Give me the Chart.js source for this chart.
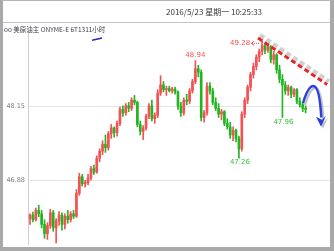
<!DOCTYPE html>
<html>
<head>
<meta charset="utf-8">
<script src="https://cdn.jsdelivr.net/npm/chart.js@4/dist/chart.umd.min.js"></script>
<style>
    body { margin: 0; background: #fff; }
    #wrap { position: relative; width: 334px; height: 251px; overflow: hidden; background: #fff; }
    #wrap canvas { position: absolute; left: 0; top: 0; }
    .frame { position: absolute; left: 0; top: 0; width: 334px; height: 251px; box-sizing: border-box;
             border-left: 3px solid #a9a9a9; border-right: 4px solid #a9a9a9; border-bottom: 4px solid #a9a9a9;
             border-top: 1px solid #b5b5b5; pointer-events: none; }
    .sep { position: absolute; left: 3px; top: 22px; width: 327px; height: 1px; background: #c4c4c4; }
    .title { position: absolute; left: 166px; top: 6px; font: 8px "Noto Sans CJK SC", "DejaVu Sans", sans-serif; color: #333; white-space: nowrap; }
    .sub { position: absolute; left: 4px; top: 24px; font: 6.5px "Noto Sans CJK SC", "DejaVu Sans", sans-serif; color: #3a3a4a; white-space: nowrap; }
</style>
</head>
<body>
<div id="wrap">
    <canvas id="chart" width="334" height="251"></canvas>
    <div class="sep"></div>
    <div class="title">2016/5/23 星期一 10:25:33</div>
    <div class="sub">oo 美原油主 ONYME-E 6T1311小时</div>
    <div class="frame"></div>
</div>
<script>
// --- Datos (velas de 1 hora) ---
const opens = [
    46.22, 46.28, 46.20, 46.36, 46.30, 46.12, 45.96, 46.10, 46.32, 46.06,
    46.18, 46.28, 46.12, 46.26, 46.20, 46.30, 46.26, 46.66, 46.94, 46.82,
    46.84, 46.92, 47.08, 47.02, 47.26, 47.38, 47.50, 47.44, 47.68, 47.78,
    47.70, 47.86, 48.10, 48.04, 48.16, 48.12, 48.26, 48.22, 47.84, 47.72,
    47.78, 47.98, 48.16, 47.94, 48.00, 48.38, 48.52, 48.44, 48.46, 48.42,
    48.45, 48.40, 48.16, 48.04, 48.26, 48.24, 48.42, 48.58, 48.80, 48.74,
    47.96, 48.04, 48.50, 48.42, 48.22, 48.12, 48.02, 48.06, 47.86, 47.80,
    47.66, 47.74, 47.60, 47.42, 48.02, 48.26, 48.48, 48.70, 48.84, 49.00,
    49.10, 49.20, 49.12, 49.18, 48.96, 49.04, 48.78, 48.62, 48.52, 48.42,
    48.48, 48.36, 48.44, 48.24, 48.18, 48.12
];
const highs = [
    46.30, 46.33, 46.40, 46.45, 46.36, 46.20, 46.15, 46.38, 46.36, 46.22,
    46.34, 46.32, 46.30, 46.36, 46.34, 46.36, 46.72, 47.00, 46.98, 46.88,
    46.98, 47.12, 47.14, 47.30, 47.42, 47.56, 47.66, 47.72, 47.84, 47.80,
    47.90, 48.14, 48.16, 48.20, 48.22, 48.30, 48.34, 48.24, 47.90, 47.82,
    48.02, 48.20, 48.26, 48.04, 48.44, 48.68, 48.58, 48.50, 48.50, 48.48,
    48.48, 48.42, 48.22, 48.30, 48.36, 48.46, 48.62, 48.94, 48.86, 48.78,
    48.08, 48.56, 48.56, 48.46, 48.30, 48.20, 48.10, 48.08, 47.94, 47.88,
    47.80, 47.76, 47.64, 48.06, 48.30, 48.52, 48.74, 48.90, 49.04, 49.14,
    49.28, 49.24, 49.22, 49.20, 49.10, 49.06, 48.86, 48.70, 48.58, 48.52,
    48.50, 48.46, 48.46, 48.30, 48.22, 48.16
];
const lows = [
    46.12, 46.16, 46.18, 46.25, 46.06, 45.88, 45.86, 46.05, 46.00, 45.80,
    46.10, 46.02, 46.04, 46.14, 46.16, 46.22, 46.24, 46.62, 46.78, 46.76,
    46.80, 46.88, 46.98, 47.00, 47.20, 47.32, 47.36, 47.40, 47.60, 47.62,
    47.64, 47.82, 47.98, 48.00, 48.06, 48.08, 48.18, 47.80, 47.66, 47.58,
    47.74, 47.94, 47.90, 47.86, 47.96, 48.34, 48.40, 48.34, 48.40, 48.38,
    48.36, 48.10, 47.98, 48.00, 48.18, 48.20, 48.38, 48.54, 48.66, 47.90,
    47.88, 48.00, 48.36, 48.18, 48.08, 47.96, 47.92, 47.82, 47.76, 47.60,
    47.56, 47.54, 47.26, 47.38, 47.96, 48.20, 48.42, 48.64, 48.78, 48.92,
    49.04, 49.06, 49.08, 48.90, 48.88, 48.72, 48.56, 47.96, 48.36, 48.34,
    48.30, 48.32, 48.20, 48.14, 48.06, 48.04
];
const closes = [
    46.28, 46.20, 46.36, 46.30, 46.12, 45.96, 46.10, 46.32, 46.06, 46.18,
    46.28, 46.12, 46.26, 46.20, 46.30, 46.26, 46.66, 46.94, 46.82, 46.84,
    46.92, 47.08, 47.02, 47.26, 47.38, 47.50, 47.44, 47.68, 47.78, 47.70,
    47.86, 48.10, 48.04, 48.16, 48.12, 48.26, 48.22, 47.84, 47.72, 47.78,
    47.98, 48.16, 47.94, 48.00, 48.38, 48.52, 48.44, 48.46, 48.42, 48.45,
    48.40, 48.16, 48.04, 48.26, 48.24, 48.42, 48.58, 48.80, 48.74, 47.96,
    48.04, 48.50, 48.42, 48.22, 48.12, 48.02, 48.06, 47.86, 47.80, 47.66,
    47.74, 47.60, 47.42, 48.02, 48.26, 48.48, 48.70, 48.84, 49.00, 49.10,
    49.20, 49.12, 49.18, 48.96, 49.04, 48.78, 48.62, 48.52, 48.42, 48.48,
    48.36, 48.44, 48.24, 48.18, 48.12, 48.10
];
const yTicks = [46.88, 48.15];
// Etiquetas de máximos / mínimos: [índice de vela, valor, tipo]
const marks = [
    [57, 48.94, 'high'],
    [80, 49.28, 'highArrow'],
    [72, 47.26, 'low'],
    [87, 47.96, 'low']
];
// Línea de tendencia y flecha dibujadas a mano (en coordenadas de datos)
const trendLine = [[78.6, 49.33], [102.4, 48.53]];
const arrowPath = [[94.1, 48.21], [96.0, 48.52], [97.9, 48.50], [99.8, 48.48], [100.4, 47.96]];
const arrowTip = [100.3, 47.80];
const topDash = [[21.4, 49.29], [24.8, 49.33]];
const lastMark = [101.5, 48.15];

const RED = '#f45252';
const GREEN = '#22b522';

const idx = opens.map((_, i) => i);
const colors = idx.map(i => closes[i] >= opens[i] ? RED : GREEN);

const annotations = {
    id: 'annotations',
    afterDatasetsDraw(chart) {
        const { ctx, scales: { x, y } } = chart;
        const px = p => [x.getPixelForValue(p[0]), y.getPixelForValue(p[1])];
        ctx.save();
        ctx.font = '7px "DejaVu Sans", sans-serif';
        ctx.textAlign = 'center';

        marks.forEach(([i, v, type]) => {
            const cx = x.getPixelForValue(i);
            const cy = y.getPixelForValue(v);
            if (type === 'high') {
                ctx.fillStyle = RED;
                ctx.textBaseline = 'bottom';
                ctx.fillText(v.toFixed(2), cx, cy - 2);
            } else if (type === 'low') {
                ctx.fillStyle = '#37c437';
                ctx.textBaseline = 'top';
                ctx.fillText(v.toFixed(2), cx + 1, cy + 1);
            } else {
                ctx.fillStyle = RED;
                ctx.textAlign = 'right';
                ctx.textBaseline = 'middle';
                ctx.fillText(v.toFixed(2), cx - 12, cy + 2);
                ctx.strokeStyle = RED;
                ctx.lineWidth = 1;
                ctx.setLineDash([1, 1]);
                ctx.beginPath();
                ctx.moveTo(cx - 10, cy + 2.5);
                ctx.lineTo(cx - 2, cy + 2.5);
                ctx.stroke();
                ctx.setLineDash([]);
                ctx.beginPath();
                ctx.moveTo(cx - 11, cy + 2.5);
                ctx.lineTo(cx - 8, cy + 0.5);
                ctx.moveTo(cx - 11, cy + 2.5);
                ctx.lineTo(cx - 8, cy + 4.5);
                ctx.stroke();
                ctx.textAlign = 'center';
            }
        });

        // línea corta azul arriba a la izquierda
        const d0 = px(topDash[0]), d1 = px(topDash[1]);
        ctx.strokeStyle = '#2b2ba8';
        ctx.lineWidth = 1.5;
        ctx.beginPath();
        ctx.moveTo(d0[0], d0[1]);
        ctx.lineTo(d1[0], d1[1]);
        ctx.stroke();

        // marca de precio actual a la derecha
        const lm = px(lastMark);
        ctx.strokeStyle = '#8080e0';
        ctx.lineWidth = 1;
        ctx.beginPath();
        ctx.moveTo(lm[0] + 18, lm[1] + 0.5);
        ctx.lineTo(lm[0] + 24, lm[1] + 0.5);
        ctx.stroke();

        // línea de tendencia con sombra
        const t0 = px(trendLine[0]), t1 = px(trendLine[1]);
        ctx.lineCap = 'butt';
        ctx.setLineDash([5, 3]);
        ctx.strokeStyle = 'rgba(170,170,170,0.55)';
        ctx.lineWidth = 4;
        ctx.beginPath();
        ctx.moveTo(t0[0] + 2, t0[1] - 3);
        ctx.lineTo(t1[0] + 2, t1[1] - 3);
        ctx.stroke();
        ctx.strokeStyle = '#e8242a';
        ctx.lineWidth = 3;
        ctx.beginPath();
        ctx.moveTo(t0[0], t0[1]);
        ctx.lineTo(t1[0], t1[1]);
        ctx.stroke();
        ctx.setLineDash([]);

        // flecha azul curva con sombra
        const a = arrowPath.map(px);
        const tip = px(arrowTip);
        const drawArrow = (dx, dy, color) => {
            ctx.strokeStyle = color;
            ctx.fillStyle = color;
            ctx.lineWidth = 2.5;
            ctx.beginPath();
            ctx.moveTo(a[0][0] + dx, a[0][1] + dy);
            ctx.quadraticCurveTo(a[1][0] + dx, a[1][1] + dy, a[2][0] + dx, a[2][1] + dy);
            ctx.quadraticCurveTo(a[3][0] + dx, a[3][1] + dy, a[4][0] + dx, a[4][1] + dy);
            ctx.stroke();
            ctx.beginPath();
            ctx.moveTo(tip[0] + dx, tip[1] + dy);
            ctx.lineTo(tip[0] - 5 + dx, tip[1] - 10 + dy);
            ctx.lineTo(tip[0] + 1 + dx, tip[1] - 7 + dy);
            ctx.lineTo(tip[0] + 5 + dx, tip[1] - 11 + dy);
            ctx.closePath();
            ctx.fill();
        };
        drawArrow(2, 2, 'rgba(120,120,120,0.45)');
        drawArrow(0, 0, '#2f3fe0');

        ctx.restore();
    }
};

new Chart(document.getElementById('chart'), {
    type: 'bar',
    data: {
        datasets: [
            {
                label: 'mecha',
                data: idx.map(i => ({ x: i, y: [lows[i], highs[i]] })),
                backgroundColor: colors,
                barThickness: 1,
                grouped: false,
                order: 2
            },
            {
                label: 'cuerpo',
                data: idx.map(i => ({ x: i, y: [opens[i], closes[i]] })),
                backgroundColor: colors,
                barThickness: 2,
                grouped: false,
                order: 1
            }
        ]
    },
    options: {
        responsive: false,
        animation: false,
        devicePixelRatio: 1,
        layout: { padding: { top: 31, right: 4, bottom: 6, left: 0 } },
        plugins: { legend: { display: false }, tooltip: { enabled: false } },
        scales: {
            x: { type: 'linear', min: -0.7, max: 103.4, offset: false, display: false },
            y: {
                min: 45.78,
                max: 49.45,
                afterBuildTicks: s => { s.ticks = yTicks.map(v => ({ value: v })); },
                afterFit: s => { s.width = 28; },
                grid: { color: '#e6e6e6', drawTicks: false },
                border: { color: '#cfcfcf' },
                ticks: {
                    color: '#7d7d7d',
                    padding: 3,
                    font: { family: 'DejaVu Sans', size: 6.5 },
                    callback: v => v.toFixed(2)
                }
            }
        }
    },
    plugins: [annotations]
});
</script>
</body>
</html>
